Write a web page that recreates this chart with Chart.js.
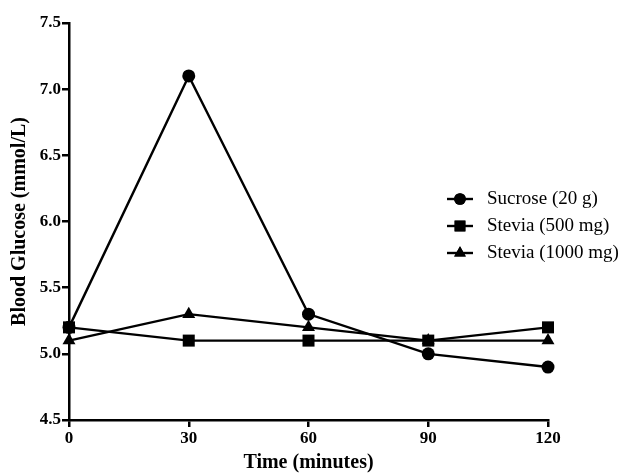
<!DOCTYPE html>
<html>
<head>
<meta charset="utf-8">
<script src="https://cdn.jsdelivr.net/npm/chart.js@4.4.0/dist/chart.umd.min.js"></script>
<style>
  html, body { margin: 0; padding: 0; background: #fff; }
  #wrap { width: 627px; height: 475px; }
</style>
</head>
<body>
<div id="wrap"><canvas id="glucoseChart"></canvas></div>
<script>
// data
const times = [0, 30, 60, 90, 120];
const sucrose = [5.2, 7.1, 5.3, 5.0, 4.9];
const stevia500 = [5.2, 5.1, 5.1, 5.1, 5.2];
const stevia1000 = [5.1, 5.3, 5.2, 5.1, 5.1];
const seriesNames = ['Sucrose (20 g)', 'Stevia (500 mg)', 'Stevia (1000 mg)'];

const serif = "'Liberation Serif', 'Times New Roman', serif";

function toPoints(vals) {
  return vals.map((v, i) => ({ x: times[i], y: v }));
}

function makeSet(label, vals, style, radius) {
  return {
    label: label,
    data: toPoints(vals),
    borderColor: '#000',
    backgroundColor: '#000',
    borderWidth: 2.4,
    pointStyle: style,
    pointRadius: radius,
    pointBorderWidth: 0,
    pointBackgroundColor: '#000',
    tension: 0,
    clip: false
  };
}

// draws the legend at the right with a line through each marker
const sideLegend = {
  id: 'sideLegend',
  afterDraw(chart) {
    const ctx = chart.ctx;
    const x0 = 447, x1 = 473, tx = 487;
    const rows = [199, 226, 253];
    ctx.save();
    chart.data.datasets.forEach((ds, i) => {
      const y = rows[i];
      ctx.strokeStyle = '#000';
      ctx.fillStyle = '#000';
      ctx.lineWidth = 2.4;
      ctx.beginPath();
      ctx.moveTo(x0, y);
      ctx.lineTo(x1, y);
      ctx.stroke();
      Chart.helpers.drawPoint(ctx, { pointStyle: ds.pointStyle, radius: ds.pointRadius * 0.9, borderWidth: 0 }, (x0 + x1) / 2, y);
      ctx.fill();
      ctx.font = '19px ' + serif;
      ctx.textBaseline = 'middle';
      ctx.fillText(ds.label, tx, y);
    });
    ctx.restore();
  }
};

const config = {
  type: 'line',
  data: {
    datasets: [
      makeSet(seriesNames[0], sucrose, 'circle', 6.5),
      makeSet(seriesNames[1], stevia500, 'rect', 8.5),
      makeSet(seriesNames[2], stevia1000, 'triangle', 7.5)
    ]
  },
  options: {
    responsive: true,
    maintainAspectRatio: false,
    animation: false,
    layout: { padding: { top: 23, right: 79, left: 0, bottom: 0 } },
    plugins: {
      legend: { display: false },
      tooltip: { enabled: false }
    },
    scales: {
      x: {
        type: 'linear',
        min: 0,
        max: 120,
        afterFit: (s) => { s.height = 55; },
        border: { color: '#000', width: 2.5 },
        grid: { drawOnChartArea: false, color: '#000', lineWidth: 2.5, tickLength: 7 },
        ticks: {
          stepSize: 30,
          color: '#000',
          padding: 1,
          font: { family: serif, size: 17, weight: 'bold' }
        },
        title: {
          display: true,
          text: 'Time (minutes)',
          color: '#000',
          padding: { top: 0, bottom: 0 },
          font: { family: serif, size: 20, weight: 'bold' }
        }
      },
      y: {
        min: 4.5,
        max: 7.5,
        afterFit: (s) => { s.width = 69; },
        border: { color: '#000', width: 2.5 },
        grid: { drawOnChartArea: false, color: '#000', lineWidth: 2.5, tickLength: 7 },
        ticks: {
          stepSize: 0.5,
          color: '#000',
          padding: 1,
          font: { family: serif, size: 17, weight: 'bold' },
          callback: (v) => v.toFixed(1)
        },
        title: {
          display: true,
          text: 'Blood Glucose (mmol/L)',
          color: '#000',
          padding: { top: 8, bottom: 0 },
          font: { family: serif, size: 20, weight: 'bold' }
        }
      }
    }
  },
  plugins: [sideLegend]
};

const myChart = new Chart(document.getElementById('glucoseChart'), config);
</script>
</body>
</html>
